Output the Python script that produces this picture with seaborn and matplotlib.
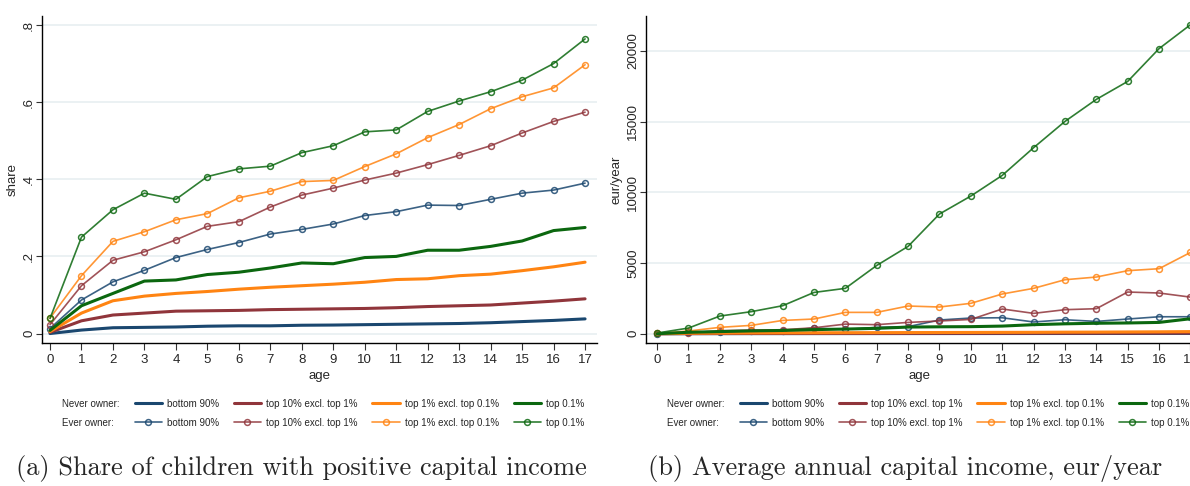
import numpy as np
import pandas as pd
import seaborn as sns
import matplotlib.pyplot as plt
from matplotlib.lines import Line2D

sns.set_theme(style="white")
plt.rcParams["font.family"] = ["Liberation Sans", "DejaVu Sans"]

ages = list(range(18))
groups = ["bottom 90%", "top 10% excl. top 1%", "top 1% excl. top 0.1%", "top 0.1%"]

# Share of children with positive capital income
share_never_b90 = [0.000, 0.009, 0.015, 0.016, 0.017, 0.019, 0.020, 0.020, 0.0215, 0.022,
                   0.023, 0.024, 0.025, 0.026, 0.028, 0.031, 0.034, 0.038]
share_never_t10 = [0.003, 0.033, 0.048, 0.053, 0.058, 0.059, 0.060, 0.062, 0.063, 0.064,
                   0.065, 0.067, 0.070, 0.072, 0.074, 0.079, 0.084, 0.090]
share_never_t1 = [0.005, 0.053, 0.085, 0.097, 0.104, 0.109, 0.115, 0.120, 0.124, 0.128,
                  0.133, 0.140, 0.142, 0.150, 0.154, 0.163, 0.173, 0.185]
share_never_t01 = [0.008, 0.072, 0.104, 0.136, 0.139, 0.153, 0.159, 0.170, 0.183, 0.181,
                   0.197, 0.200, 0.216, 0.216, 0.226, 0.240, 0.267, 0.275]

share_ever_b90 = [0.013, 0.087, 0.134, 0.164, 0.197, 0.218, 0.236, 0.258, 0.270, 0.284,
                  0.306, 0.316, 0.333, 0.332, 0.348, 0.364, 0.372, 0.390]
share_ever_t10 = [0.023, 0.124, 0.190, 0.212, 0.243, 0.278, 0.290, 0.328, 0.359, 0.377,
                  0.398, 0.416, 0.438, 0.462, 0.487, 0.520, 0.550, 0.574]
share_ever_t1 = [0.040, 0.150, 0.239, 0.264, 0.295, 0.311, 0.352, 0.369, 0.394, 0.397,
                 0.433, 0.466, 0.508, 0.542, 0.583, 0.614, 0.637, 0.697]
share_ever_t01 = [0.039, 0.250, 0.321, 0.364, 0.348, 0.407, 0.427, 0.434, 0.469, 0.487,
                  0.523, 0.528, 0.576, 0.603, 0.627, 0.657, 0.700, 0.764]

# Average annual capital income, eur/year
inc_never_b90 = [0, 3, 5, 6, 7, 8, 9, 10, 11, 12, 13, 14, 15, 16, 17, 18, 20, 22]
inc_never_t10 = [0, 10, 15, 18, 20, 22, 24, 26, 28, 30, 32, 34, 36, 38, 40, 44, 48, 52]
inc_never_t1 = [0, 30, 45, 55, 60, 65, 70, 75, 80, 85, 90, 95, 100, 110, 115, 125, 135, 150]
inc_never_t01 = [0, 100, 150, 200, 230, 290, 330, 380, 470, 490, 500, 540, 640, 700,
                 740, 760, 800, 1060]

inc_ever_b90 = [0, 100, 140, 165, 210, 400, 300, 450, 500, 970, 1110, 1130, 830, 990,
                870, 1040, 1200, 1200]
inc_ever_t10 = [20, 70, 210, 260, 280, 420, 680, 640, 800, 900, 1010, 1750, 1440, 1700,
                1770, 2950, 2880, 2590]
inc_ever_t1 = [20, 190, 450, 590, 940, 1040, 1510, 1510, 1960, 1890, 2150, 2810, 3210,
               3820, 4010, 4460, 4600, 5750]
inc_ever_t01 = [50, 400, 1250, 1560, 1980, 2920, 3210, 4830, 6180, 8470, 9740, 11200,
                13160, 15020, 16580, 17850, 20170, 21860]

colors = ["#1a476f", "#90353b", "#ff8412", "#0b670f"]


def long_frame(never, ever):
    rows = []
    for g, vals in zip(groups, never):
        rows += [("Never owner", g, a, v) for a, v in zip(ages, vals)]
    for g, vals in zip(groups, ever):
        rows += [("Ever owner", g, a, v) for a, v in zip(ages, vals)]
    return pd.DataFrame(rows, columns=["owner", "group", "age", "value"])


df_share = long_frame([share_never_b90, share_never_t10, share_never_t1, share_never_t01],
                      [share_ever_b90, share_ever_t10, share_ever_t1, share_ever_t01])
df_inc = long_frame([inc_never_b90, inc_never_t10, inc_never_t1, inc_never_t01],
                    [inc_ever_b90, inc_ever_t10, inc_ever_t1, inc_ever_t01])

fig = plt.figure(figsize=(11.9, 4.86), dpi=100)
ax1 = fig.add_axes([0.0353, 0.2942, 0.4664, 0.6728])
ax2 = fig.add_axes([0.5429, 0.2942, 0.4600, 0.6728])

never_kw = dict(linewidth=2.2, alpha=1.0)
ever_kw = dict(linewidth=1.2, alpha=0.85, marker="o", markersize=4.2,
               markerfacecolor="none", markeredgewidth=1.1)


def draw(ax, df):
    for g, c in zip(groups, colors):
        sub = df[(df.owner == "Ever owner") & (df.group == g)]
        sns.lineplot(data=sub, x="age", y="value", ax=ax, color=c,
                     markeredgecolor=c, legend=False, **ever_kw)
    for g, c in zip(groups, colors):
        sub = df[(df.owner == "Never owner") & (df.group == g)]
        sns.lineplot(data=sub, x="age", y="value", ax=ax, color=c,
                     legend=False, **never_kw)


draw(ax1, df_share)
draw(ax2, df_inc)

grid_color = "#e8eff1"
for ax in (ax1, ax2):
    ax.set_xticks(ages)
    ax.tick_params(axis="x", direction="out", length=5, width=0.8, color="#333333",
                   labelsize=9.5, pad=3, bottom=True)
    ax.tick_params(axis="y", direction="out", length=4.5, width=0.8, color="#333333",
                   labelsize=9.5, pad=0.5, left=True)
    ax.grid(axis="y", color=grid_color, linewidth=1.2)
    ax.grid(axis="x", visible=False)
    ax.set_axisbelow(True)
    for s in ("top", "right"):
        ax.spines[s].set_visible(False)
    for s in ("left", "bottom"):
        ax.spines[s].set_color("black")
        ax.spines[s].set_linewidth(1.0)
    ax.set_xlabel("age", fontsize=9.5, labelpad=3)

ax1.set_xlim(-0.254, 17.38)
ax1.set_ylim(-0.0246, 0.8233)
ax1.set_yticks([0, 0.2, 0.4, 0.6, 0.8])
ax1.set_yticklabels(["0", ".2", ".4", ".6", ".8"], rotation=90, va="center")
ax1.set_ylabel("share", fontsize=9.5, labelpad=3)

ax2.set_xlim(-0.353, 17.096)
ax2.set_ylim(-658, 22476)
ax2.set_yticks([0, 5000, 10000, 15000, 20000])
ax2.set_yticklabels(["0", "5000", "10000", "15000", "20000"], rotation=90, va="center")
ax2.set_ylabel("eur/year", fontsize=9.5, labelpad=3)


def legend_handles():
    blank = Line2D([], [], linestyle="none")
    handles, labels = [], []
    handles += [blank, blank]
    labels += ["Never owner:", "Ever owner:"]
    for g, c in zip(groups, colors):
        handles.append(Line2D([], [], color=c, linewidth=2.2))
        labels.append(g)
        handles.append(Line2D([], [], color=c, alpha=0.85, linewidth=1.2, marker="o",
                              markersize=4.2, markerfacecolor="none",
                              markeredgecolor=c, markeredgewidth=1.1))
        labels.append(g)
    return handles, labels


for ax, x0 in ((ax1, 62), (ax2, 667)):
    h, l = legend_handles()
    fig.legend(h, l, ncol=5, loc="upper left",
               bbox_to_anchor=((x0 - 36) / 1190, 1 - 395 / 486),
               fontsize=7, frameon=False, handlelength=2.8, handletextpad=0.5,
               columnspacing=1.55, labelspacing=0.9, borderaxespad=0)

fig.text(301 / 1190, 1 - 468 / 486, "(a) Share of children with positive capital income",
         family="cmr10", fontsize=19, ha="center", va="center")
fig.text(905 / 1190, 1 - 468 / 486, "(b) Average annual capital income, eur/year",
         family="cmr10", fontsize=19, ha="center", va="center")

fig.savefig("out.png", dpi=100, facecolor="white")
